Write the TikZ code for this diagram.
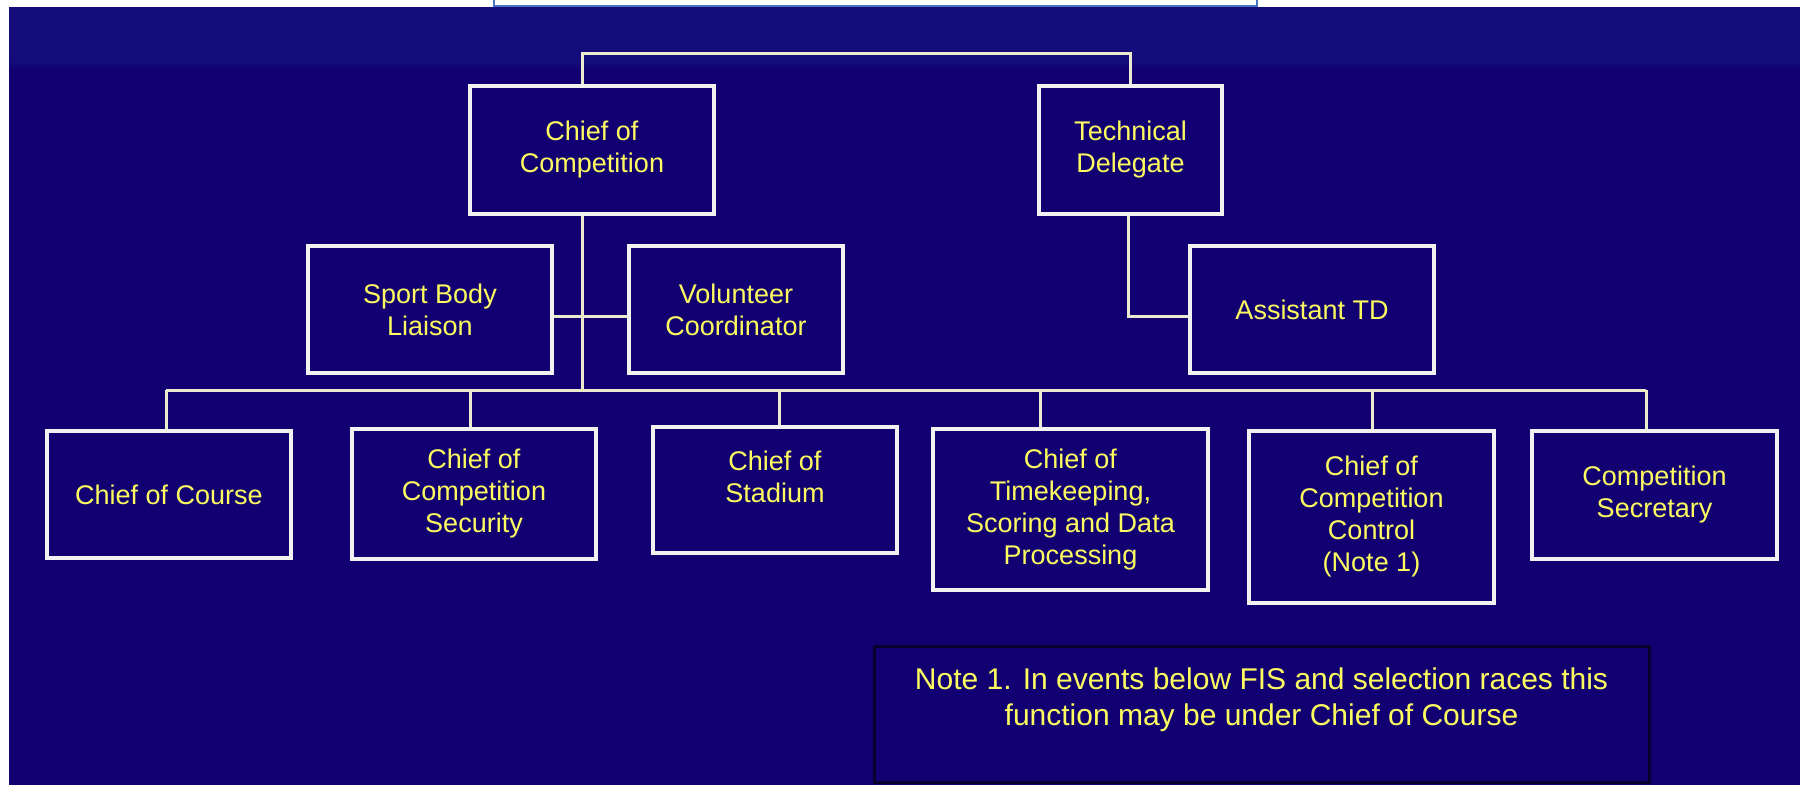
\documentclass[tikz,border=0pt]{standalone}
\usepackage{fontspec}
\setmainfont{Liberation Sans}
\definecolor{bgblue}{RGB}{18,0,114}
\definecolor{bandblue}{RGB}{20,12,122}
\definecolor{boxline}{RGB}{242,242,242}
\definecolor{conline}{RGB}{236,234,205}
\definecolor{txtyellow}{RGB}{252,252,96}
\definecolor{notedark}{RGB}{10,0,45}
\definecolor{topblue}{RGB}{68,114,196}
\begin{document}
\begin{tikzpicture}[x=1pt,y=-1pt,
  orgbox/.style={draw=boxline, line width=3.5pt, fill=bgblue, text=txtyellow, align=center, inner sep=0pt, font=\fontsize{27}{32}\selectfont},
  boxtext/.style={text=txtyellow, align=center, inner sep=0pt, font=\fontsize{27}{32}\selectfont},
  notebox/.style={draw=notedark, line width=3pt, fill=bgblue, inner sep=0pt},
  notetext/.style={text=txtyellow, align=center, inner sep=0pt, font=\fontsize{30}{36}\selectfont},
  conn/.style={draw=conline, line width=3pt},
]
\useasboundingbox (0,0) rectangle (1800,785);
% background
\fill[white] (0,0) rectangle (1800,785);
\fill[bgblue] (9,7) rectangle (1800,785);
\fill[bandblue] (9,7) rectangle (1800,61);
\shade[top color=bandblue, bottom color=bgblue] (9,61) rectangle (1800,69);
\draw[topblue, line width=2pt] (494,-2) -- (494,6) -- (1257,6) -- (1257,-2);

% nodes
\node[orgbox, minimum width=244pt, minimum height=128pt] (coc) at (592,150) {Chief of\\Competition};
\node[orgbox, minimum width=183pt, minimum height=128pt] (td) at (1130.5,150) {Technical\\Delegate};
\node[orgbox, minimum width=244pt, minimum height=127pt] (sbl) at (430,309.5) {Sport Body\\Liaison};
\node[orgbox, minimum width=214pt, minimum height=127pt] (vc) at (736,309.5) {Volunteer\\Coordinator};
\node[orgbox, minimum width=244pt, minimum height=127pt] (atd) at (1312,309.5) {Assistant TD};
\node[orgbox, minimum width=244pt, minimum height=127pt] (course) at (169,494.5) {Chief of Course};
\node[orgbox, minimum width=244pt, minimum height=130pt] (sec) at (474,494) {Chief of\\Competition\\Security};
\node[orgbox, minimum width=244pt, minimum height=126pt] (stad) at (775,490) {};
\node[boxtext] (stadtxt) at (775,477) {Chief of\\Stadium};
\node[orgbox, minimum width=275pt, minimum height=161pt] (time) at (1070.5,509.5) {Chief of\\Timekeeping,\\Scoring and Data\\Processing};
\node[orgbox, minimum width=245pt, minimum height=172pt] (ctrl) at (1371.5,517) {Chief of\\Competition\\Control\\(Note 1)};
\node[orgbox, minimum width=245pt, minimum height=128pt] (secy) at (1654.5,495) {Competition\\Secretary};
\node[notebox, minimum width=775pt, minimum height=136pt] (note) at (1261.5,714) {};
\node[notetext] (notetxt) at (1261.5,700) {Note 1. In events below FIS and selection races this\\function may be under Chief of Course};

% connectors
\coordinate (jtop) at (582,53);
\coordinate (jbus) at (582,390);
\coordinate (jmid) at (582,316);
\coordinate (jatd) at (1128,316);
\coordinate (b1) at (166,390);
\coordinate (b2) at (470,390);
\coordinate (b3) at (779,390);
\coordinate (b4) at (1040,390);
\coordinate (b5) at (1372,390);
\coordinate (b6) at (1646,390);
\draw[conn] (jtop |- coc.north) -- (jtop) -| (td.north);
\draw[conn] (jtop |- coc.south) -- (jbus);
\draw[conn] (jmid -| sbl.east) -- (jmid -| vc.west);
\draw[conn] (jatd |- td.south) -- (jatd) -- (jatd -| atd.west);
\draw[conn] (b1) -- (b6);
\draw[conn] (b1) -- (b1 |- course.north);
\draw[conn] (b2) -- (b2 |- sec.north);
\draw[conn] (b3) -- (b3 |- stad.north);
\draw[conn] (b4) -- (b4 |- time.north);
\draw[conn] (b5) -- (b5 |- ctrl.north);
\draw[conn] (b6) -- (b6 |- secy.north);
\end{tikzpicture}
\end{document}
